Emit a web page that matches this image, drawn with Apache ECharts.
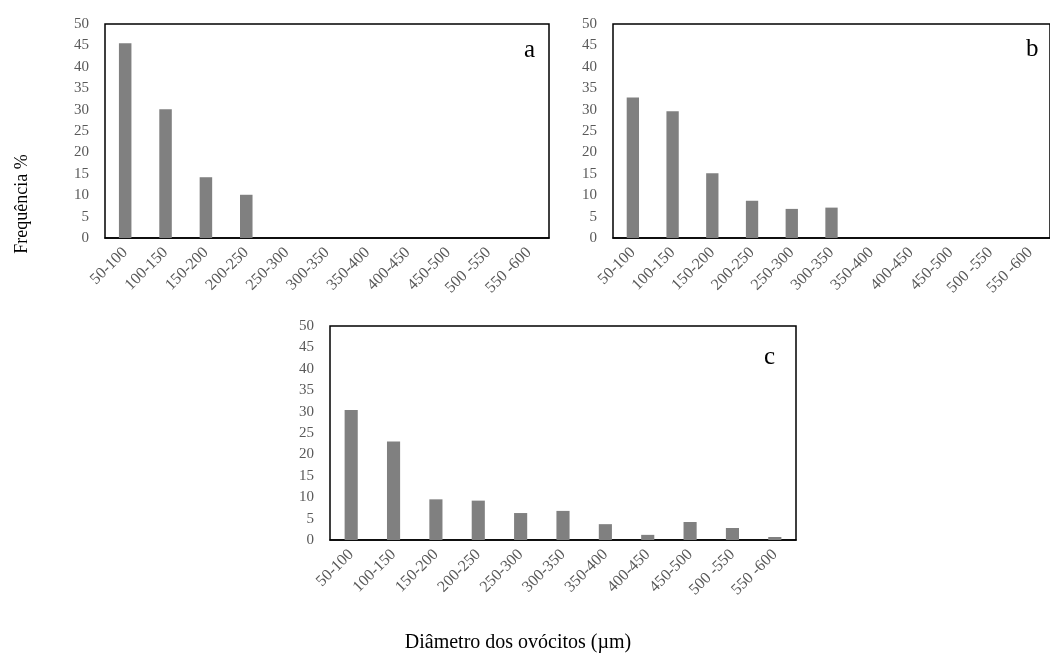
<!DOCTYPE html>
<html>
<head>
<meta charset="utf-8">
<script src="https://cdn.jsdelivr.net/npm/echarts@6/dist/echarts.min.js"></script>
<style>
  html, body { margin: 0; padding: 0; background: #fff; }
  #chart { width: 1050px; height: 662px; }
</style>
</head>
<body>
<div id="chart"></div>
<script>
const categories = ['50-100','100-150','150-200','200-250','250-300','300-350','350-400','400-450','450-500','500 -550','550 -600'];
const valuesA = [45.5, 30.1, 14.2, 10.1, 0, 0, 0, 0, 0, 0, 0];
const valuesB = [32.8, 29.6, 15.1, 8.7, 6.8, 7.1, 0, 0, 0, 0, 0];
const valuesC = [30.4, 23.0, 9.5, 9.2, 6.3, 6.8, 3.7, 1.2, 4.2, 2.8, 0.7];
const panelLabels = ['a', 'b', 'c'];
const yTitle = 'Frequência %';
const xTitle = 'Diâmetro dos ovócitos (µm)';

const FONT = '"Liberation Serif", "Times New Roman", serif';
const grids = [
  { left: 105, top: 24, width: 444, height: 214 },
  { left: 613, top: 24, width: 450, height: 214 },
  { left: 330, top: 326, width: 466, height: 214 }
];
const allValues = [valuesA, valuesB, valuesC];

const chart = echarts.init(document.getElementById('chart'));
const option = {
  animation: false,
  backgroundColor: '#fff',
  grid: grids.map(g => Object.assign({ show: true, borderColor: '#000', borderWidth: 1.5, backgroundColor: 'transparent', containLabel: false }, g)),
  xAxis: grids.map((g, i) => ({
    type: 'category', gridIndex: i, data: categories,
    axisLine: { lineStyle: { color: '#000', width: 1.5 } },
    axisTick: { inside: true, length: 5, lineStyle: { color: '#000', width: 1.5 } },
    axisLabel: { rotate: 45, interval: 0, margin: 12, fontFamily: FONT, fontSize: 16, color: '#595959' },
    splitLine: { show: false }
  })),
  yAxis: grids.map((g, i) => ({
    type: 'value', gridIndex: i, min: 0, max: 50, interval: 5,
    axisLine: { show: false }, axisTick: { show: false }, splitLine: { show: false },
    axisLabel: { margin: 16, fontFamily: FONT, fontSize: 15, color: '#595959' }
  })),
  series: allValues.map((vals, i) => ({
    type: 'bar', xAxisIndex: i, yAxisIndex: i, data: vals,
    barWidth: '31%', itemStyle: { color: '#808080' }
  })),
  graphic: [
    { type: 'text', left: 524, top: 38, style: { text: panelLabels[0], font: '25px ' + FONT, fill: '#000' } },
    { type: 'text', left: 1026, top: 37, style: { text: panelLabels[1], font: '25px ' + FONT, fill: '#000' } },
    { type: 'text', left: 764, top: 345, style: { text: panelLabels[2], font: '25px ' + FONT, fill: '#000' } },
    { type: 'text', x: 22, y: 204, rotation: Math.PI / 2,
      style: { text: yTitle, font: '18px ' + FONT, fill: '#000', textAlign: 'center', textVerticalAlign: 'middle' } },
    { type: 'text', x: 518, y: 643,
      style: { text: xTitle, font: '20px ' + FONT, fill: '#000', textAlign: 'center', textVerticalAlign: 'middle' } }
  ]
};
chart.setOption(option);
</script>
</body>
</html>
